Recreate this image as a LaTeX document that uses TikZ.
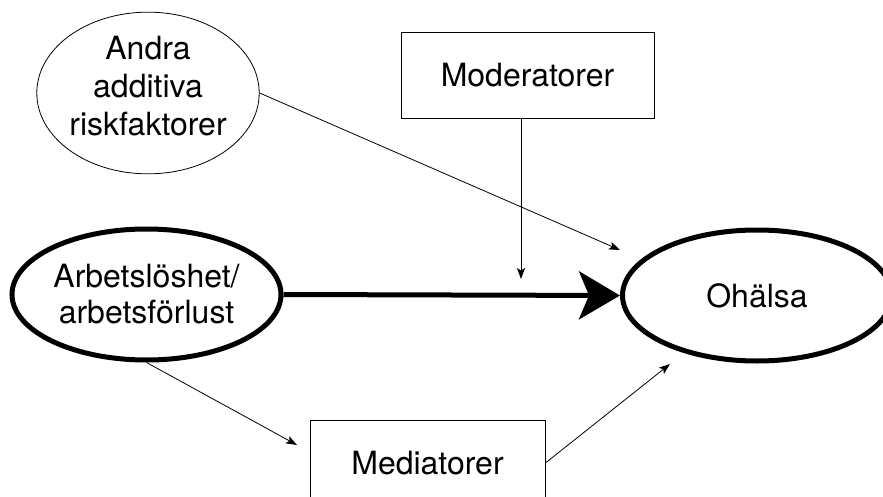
\documentclass[tikz,border=0pt]{standalone}
\usepackage{fontspec}
\setmainfont{TeX Gyre Heros}
\usepackage{tikz}
\usetikzlibrary{
    arrows.meta,
    shapes.geometric,
    positioning
}

\begin{document}
\begin{tikzpicture}[x=1pt, y=-1pt,
        every node/.style={font=\fontsize{32}{38}\selectfont, align=center, inner sep=0pt},
        thinellipse/.style={ellipse, draw, line width=0.8pt},
        thickellipse/.style={ellipse, draw, line width=5pt, minimum width=269pt, minimum height=131pt},
        factorbox/.style={rectangle, draw, line width=0.8pt, minimum height=86pt},
        thinarrow/.style={line width=0.8pt, -{Stealth[length=11pt, width=8pt, inset=2.5pt]}},
        mainarrow/.style={line width=5pt, -{Stealth[length=41pt, width=48pt, inset=10pt]}}]
                        \useasboundingbox (0, 0) rectangle (883, 497);
                        \clip (0, 0) rectangle (883, 497);
                        \node[thinellipse, minimum width=218pt, minimum height=160pt, text depth=15pt] (andra) at (148, 93) {Andra\\additiva\\riskfaktorer};
                        \node[factorbox, minimum width=253pt] (moder) at (527.5, 75.5) {Moderatorer};
                        \node[thickellipse, font=\fontsize{32}{36}\selectfont] (arbets) at (146.5, 294.5) {Arbetslöshet/\\arbetsförlust};
                        \node[thickellipse] (ohalsa) at (757, 295.5) {Ohälsa};
                        \node[factorbox, minimum width=235pt] (medi) at (427.5, 463) {Mediatorer};
                        \coordinate (andraend) at (620, 250);
                        \coordinate (moderend) at (521, 279);
                        \coordinate (mediin) at (297, 445);
                        \coordinate (mediout) at (670, 364);
                        \draw[thinarrow] (andra.east) -- (andraend);
                        \draw[thinarrow] (moderend |- moder.south) -- (moderend);
                        \draw[mainarrow] (arbets.east) -- (ohalsa.west);
                        \draw[thinarrow] (arbets.south) -- (mediin);
                        \draw[thinarrow] (medi.east) -- (mediout);
                    \end{tikzpicture}
\end{document}
